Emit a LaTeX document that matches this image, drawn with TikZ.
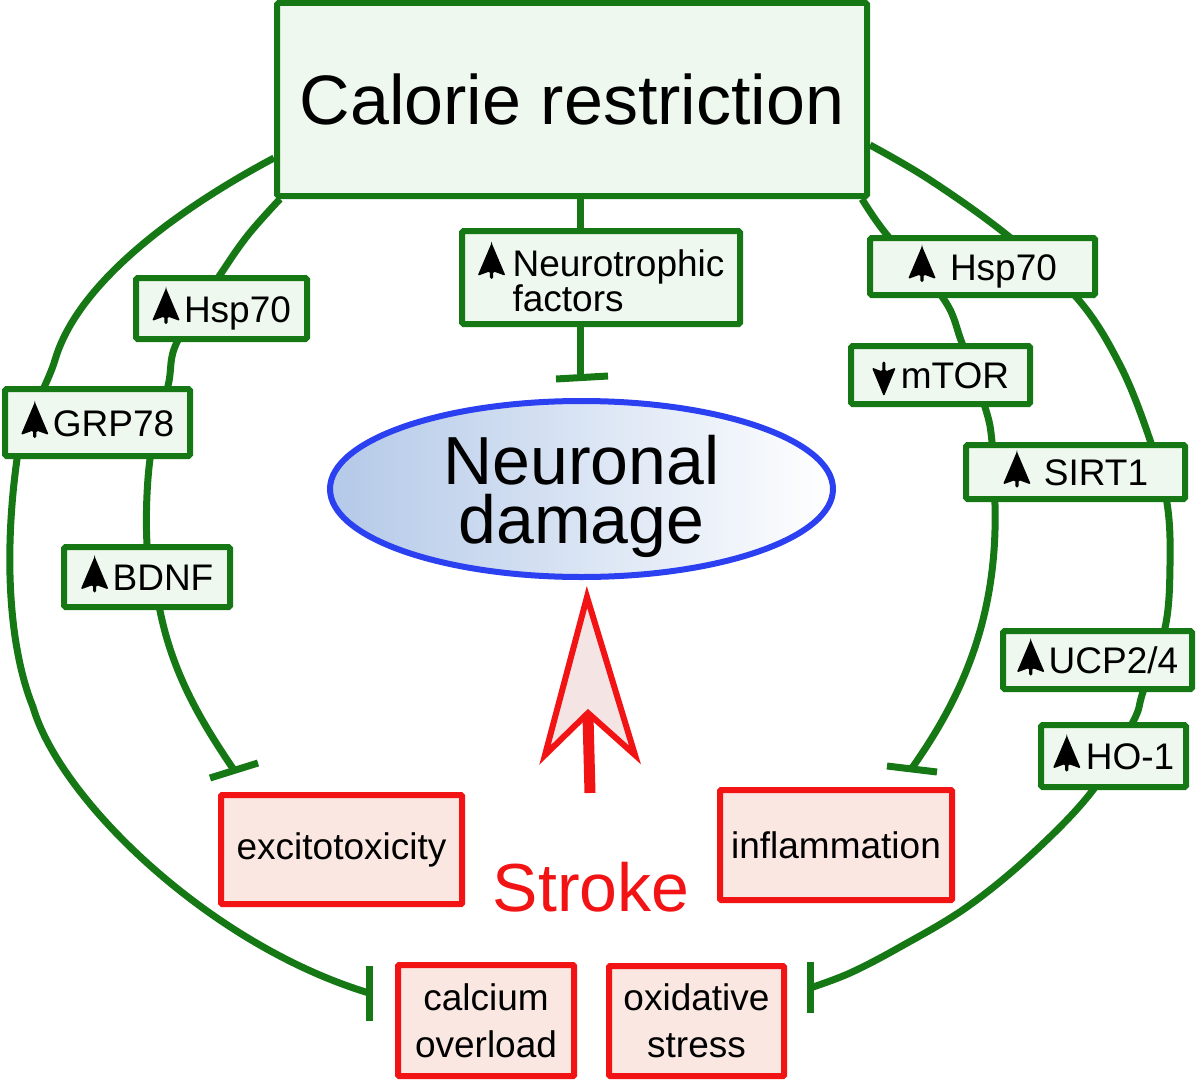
\documentclass[tikz,border=0pt]{standalone}
\usepackage{fontspec}
\setmainfont{Liberation Sans}
\usetikzlibrary{shapes.geometric,backgrounds}
\definecolor{gline}{HTML}{157815}
\definecolor{gfill}{HTML}{EFF8EF}
\definecolor{rline}{HTML}{F21414}
\definecolor{rfill}{HTML}{FAE7E2}
\definecolor{afill}{HTML}{F4E4E4}
\definecolor{bline}{HTML}{2B40F0}
\definecolor{bshade}{HTML}{B4C9E8}
\newcommand{\myfs}[2]{\fontsize{#1}{#2}\selectfont}
\newcommand{\uparr}{\tikz[baseline=0pt,x=1pt,y=1pt]{\fill[black] (0,34) .. controls (-7,17) .. (-14,1) -- (-1.6,5.5) -- (-1.6,-2) -- (1.6,-2) -- (1.6,5.5) -- (14,1) .. controls (7,17) .. cycle;}}
\newcommand{\downarr}{\tikz[baseline=0pt,x=1pt,y=1pt]{\fill[black] (0,-8) .. controls (-6,7) .. (-12,21) -- (-1.6,17) -- (-1.6,27) -- (1.6,27) -- (1.6,17) -- (12,21) .. controls (6,7) .. cycle;}}
\begin{document}
\begin{tikzpicture}[x=1pt,y=-1pt,
  gl/.style={draw=gline,line width=7pt},
  gbox/.style={draw=gline,line width=6pt,fill=gfill,rounded corners=1.5pt,inner sep=0pt,font=\myfs{37}{35}},
  oneline/.style={text height=27pt,text depth=0pt},
  rbox/.style={draw=rline,line width=6pt,fill=rfill,rounded corners=1pt,inner sep=0pt,font=\myfs{37}{47},align=center}]
\useasboundingbox (0,0) rectangle (1200,1081);

% boxes
\node[gbox,minimum width=590pt,minimum height=193pt,font=\myfs{70}{70},text height=50pt,text depth=0pt] (cr) at (572,99.5) {Calorie restriction};
\node[gbox,minimum width=278pt,minimum height=93pt,align=left] (neuro) at (601,277.5) {\uparr\hspace{7pt}Neurotrophic\\\hphantom{\uparr\hspace{7pt}}factors};
\node[gbox,oneline,minimum width=171pt,minimum height=61pt] (hspL) at (221.5,308.5) {\uparr\hspace{4pt}Hsp70};
\node[gbox,oneline,minimum width=185pt,minimum height=67pt] (grp) at (97.5,422.5) {\uparr\hspace{4pt}GRP78};
\node[gbox,oneline,minimum width=166pt,minimum height=60pt] (bdnf) at (147,577) {\uparr\hspace{4pt}BDNF};
\node[gbox,oneline,minimum width=225pt,minimum height=57pt] (hspR) at (982.5,266.5) {\uparr\hspace{14pt}Hsp70\hspace{6pt}};
\node[gbox,oneline,minimum width=179pt,minimum height=58pt] (mtor) at (940.5,375) {\downarr\hspace{5pt}mTOR};
\node[gbox,oneline,minimum width=219pt,minimum height=54pt] (sirt) at (1075.5,472) {\uparr\hspace{13pt}SIRT1};
\node[gbox,oneline,minimum width=189pt,minimum height=58pt] (ucp) at (1097.5,660) {\uparr\hspace{4pt}UCP2/4};
\node[gbox,oneline,minimum width=145pt,minimum height=62pt] (ho) at (1113.5,756) {\uparr\hspace{5pt}HO-1};

\node[rbox,minimum width=241pt,minimum height=109pt] (exc) at (341.5,849.5) {excitotoxicity};
\node[rbox,minimum width=232pt,minimum height=110pt] (infl) at (836,845) {inflammation};
\node[rbox,minimum width=176pt,minimum height=111pt] (calc) at (486,1020.5) {calcium\\overload};
\node[rbox,minimum width=175pt,minimum height=110pt] (oxid) at (696.5,1021) {oxidative\\stress};

% neuronal damage
\node[ellipse,draw=bline,line width=6pt,left color=bshade,right color=white,minimum width=503pt,minimum height=176pt,inner sep=0pt] (nd) at (581.5,489) {};
\node[font=\myfs{68}{68},anchor=base,inner sep=0pt] (ndt1) at (581.5,484) {Neuronal};
\node[font=\myfs{68}{68},anchor=base,inner sep=0pt] (ndt2) at (581.5,543) {damage};

% stroke
\node[text=rline,font=\myfs{68}{68},text height=49pt,text depth=0pt,inner sep=0pt] (stk) at (591,887) {Stroke};
\coordinate (sTip) at (587,597);
\coordinate (sL) at (545,755);
\coordinate (sN) at (588,713);
\coordinate (sR) at (635,755);
\coordinate (sEnd) at (590,793);
\draw[draw=rline,fill=afill,line width=6pt,line join=miter] (sTip) -- (sL) -- (sN) -- (sR) -- cycle;
\draw[draw=rline,line width=11pt] ([yshift=-3pt]sN) -- (sEnd);

% connectors
\begin{scope}[on background layer]
\fill[white] (0,0) rectangle (1200,1081);
% neurotrophic
\coordinate (nE) at (580,377);
\draw[gl] (cr.south -| nE) -- (neuro.north -| nE);
\draw[gl] (neuro.south -| nE) -- (nE);
\draw[gl] (556,379) -- (608,376);
% outer left
\coordinate (olS) at ([yshift=-58.5pt]cr.west);
\coordinate (olE) at (369,993);
\draw[gl] (olS) .. controls (195,200) and (80,275) .. (55,360)
  .. controls (47.5,385.5) and (21,429) .. (17,459)
  .. controls (3,560) and (10,650) .. (33,707)
  .. controls (60,800) and (210,945) .. (olE);
\draw[gl] (369,966) -- (369,1021);
% inner left
\coordinate (ilS) at ([xshift=6pt]cr.south west);
\coordinate (ilE) at (234,770);
\draw[gl] plot[smooth,tension=0.6] coordinates {(ilS) (248,235) (220,275) (177,342) (168,386) (150,459) (147,544) (158,600)};
\draw[gl] (158,600) .. controls (170,670) and (200,720) .. (ilE);
\draw[gl] (210,778) -- (258,763);
% outer right
\coordinate (orS) at ([yshift=-45.5pt]cr.east);
\coordinate (orE) at (810,988);
\draw[gl] plot[smooth,tension=0.6] coordinates {(orS) (930,180) (1007,235) (1077,298) (1120,365) (1150,440) (1167,503) (1170,565) (1165,628) (1143,692) (1133,722) (1093,790) (1033,853) (967,907) (900,947) (850,973) (orE)};
\draw[gl] (810,962) -- (810,1013);
% inner right
\coordinate (irS) at ([xshift=-8pt]cr.south east);
\coordinate (irE) at (912,768);
\draw[gl] plot[smooth,tension=0.6] coordinates {(irS) (887,235) (943,298) (962,343) (985,407) (992,442) (995,505)};
\draw[gl] (995,505) .. controls (998,620) and (960,700) .. (irE);
\draw[gl] (887,766) -- (937,772);
\end{scope}
\end{tikzpicture}
\end{document}
